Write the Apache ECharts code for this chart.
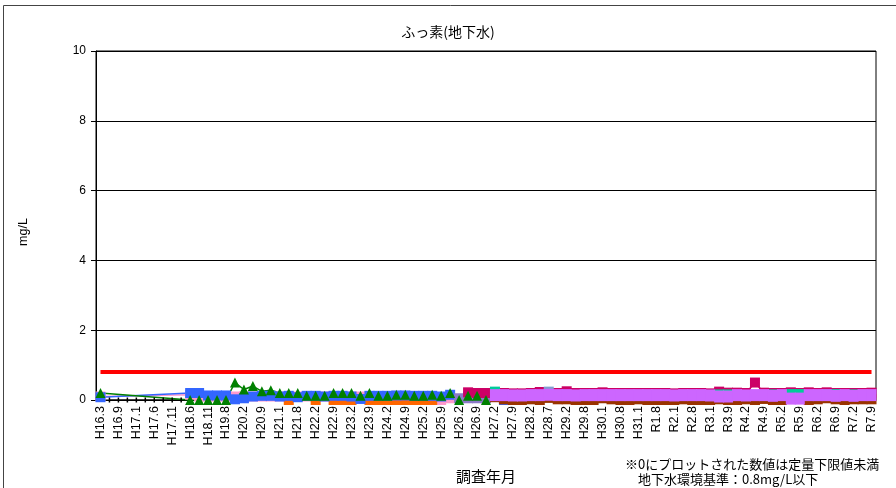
<!DOCTYPE html>
<html><head><meta charset="utf-8">
<script src="https://cdn.jsdelivr.net/npm/echarts@6/dist/echarts.min.js"></script>
<style>html,body{margin:0;padding:0;background:#fff}#c{width:896px;height:488px}</style>
</head><body><div id="c"></div>
<script>
const _ = null;
const title = 'ふっ素(地下水)';
const yName = 'mg/L';
const xName = '調査年月';
const note1 = '※0にプロットされた数値は定量下限値未満';
const note2 = '地下水環境基準：0.8mg/L以下';
const STANDARD = 0.8;
const yTicks = {min: 0, max: 10, interval: 2};

const categories = [
'H16.3','H16.6','H16.9','H16.11','H17.1','H17.3','H17.6','H17.8','H17.11','H18.2',
'H18.6','H18.8','H18.11','H19.2','H19.8','H19.11','H20.2','H20.6','H20.9','H20.11',
'H21.1','H21.5','H21.8','H21.11','H22.2','H22.5','H22.9','H22.11','H23.2','H23.5',
'H23.9','H23.11','H24.2','H24.5','H24.9','H24.11','H25.2','H25.5','H25.9','H25.11',
'H26.2','H26.5','H26.9','H26.11','H27.2','H27.5','H27.9','H27.11','H28.2','H28.5',
'H28.7','H28.11','H29.2','H29.5','H29.8','H29.11','H30.1','H30.5','H30.8','H30.11',
'H31.1','R1.5','R1.8','R1.11','R2.1','R2.5','R2.8','R2.11','R3.1','R3.5',
'R3.9','R3.11','R4.2','R4.5','R4.9','R4.11','R5.2','R5.5','R5.9','R5.11',
'R6.2','R6.5','R6.9','R6.11','R7.2','R7.5','R7.9'
];

const pinkVals = [
0.1,_,_,_,_,_,_,_,_,_,
0.15,0.1,0.1,0.1,0.1,0.1,0.1,0.1,0.1,0.1,
0.1,0.1,0.1,0.1,0.1,0.1,0.1,0.1,0.1,0.1,
0.1,0.1,0.1,0.1,0.1,0.1,0.1,0.1,0,0.05
];
const blackVals = [_,0,0,0,0,0,0,0,0,0];
const orangeVals = [
_,_,_,_,_,_,_,_,_,_,
_,_,_,_,_,_,_,_,_,_,
_,0,_,_,0,_,0,0,0,_,
0,0,0,0,0,0,0,0
];
const blueVals = [
0.08,_,_,_,_,_,_,_,_,_,
0.2,0.2,0.13,0.13,0.13,0.02,0.05,0.1,0.12,0.12,
0.1,0.12,0.08,0.12,0.12,0.1,0.12,0.12,0.1,0.03,
0.12,0.12,0.12,0.13,0.13,0.12,0.12,0.12,0.1,0.15,
_,0.1,0.1,0.08,_,0
];
const slateVals = [
_,_,_,_,_,_,_,_,_,_,
_,_,_,_,_,_,_,_,_,_,
_,_,_,_,_,_,_,_,_,_,
_,_,_,_,_,_,_,_,_,_,
0.05,0.05,0.05,0.05
];
const brownVals = [
_,_,_,_,_,_,_,_,_,_,
_,_,_,_,_,_,_,_,_,_,
_,_,_,_,_,_,_,_,_,_,
_,_,_,_,_,_,_,_,_,_,
_,_,_,_,0.08,0.02,0,0,0.02,0,
0.06,0.02,0.02,0,0,0,0.05,0.02,0,0,
0.02,0,0,0,0,0.02,0,0,0,0.02,
0,0,0.02,0,0.03,0,0,_,_,0,
0.02,0.05,0.02,0,0.02,0.02,0.02
];
const magentaVals = [
_,_,_,_,_,_,_,_,_,_,
_,_,_,_,_,_,_,_,_,_,
_,_,_,_,_,_,_,_,_,_,
_,_,_,_,_,_,_,_,_,_,
_,0.22,0.2,0.2,0.21,0.2,0.19,0.19,0.2,0.23,
0.2,0.2,0.25,0.2,0.2,0.2,0.22,0.2,0.2,0.2,
0.2,0.2,0.2,0.2,0.19,0.2,0.2,0.2,0.19,0.24,
0.21,0.21,0.2,0.5,0.21,0.2,0.2,0.22,0.2,0.22,
0.2,0.22,0.2,0.2,0.2,0.2,0.21
];
const tealVals = [
_,_,_,_,_,_,_,_,_,_,
_,_,_,_,_,_,_,_,_,_,
_,_,_,_,_,_,_,_,_,_,
_,_,_,_,_,_,_,_,_,_,
_,_,_,_,0.24,_,_,_,_,_,
_,_,_,_,_,_,_,_,_,_,
_,_,_,_,_,_,_,_,_,0.16,
0.16,_,_,_,_,0.16,_,0.17,0.17,_,
_,0.16,0.17,_,0.16
];
const bluegrayVals = [
_,_,_,_,_,_,_,_,_,_,
_,_,_,_,_,_,_,_,_,_,
_,_,_,_,_,_,_,_,_,_,
_,_,_,_,_,_,_,_,_,_,
_,_,_,_,_,_,_,_,_,_,
0.24
];
const purpleVals = [
_,_,_,_,_,_,_,_,_,_,
_,_,_,_,_,_,_,_,_,_,
_,_,_,_,_,_,_,_,_,_,
_,_,_,_,_,_,_,_,_,_,
_,_,_,_,0.14,0.14,0.13,0.13,0.14,0.14,
0.15,0.14,0.14,0.13,0.14,0.14,0.14,0.14,0.14,0.14,
0.14,0.14,0.14,0.14,0.13,0.14,0.14,0.14,0.13,0.1,
0.1,0.14,0.13,0.14,0.14,0.12,0.14,0.04,0.04,0.14,
0.14,0.14,0.12,0.14,0.12,0.14,0.14
];
const greenVals = [
0.2,_,_,_,_,_,_,_,_,_,
0,0,0,0,0,0.5,0.3,0.4,0.25,0.28,
0.2,0.2,0.2,0.12,0.12,0.12,0.2,0.2,0.2,0.12,
0.2,0.12,0.12,0.15,0.15,0.12,0.12,0.15,0.12,0.2,
0,0.12,0.12,0
];

function ser(name, data, color, opts) {
  return Object.assign({
    name: name, type: 'line', data: data,
    symbol: 'rect', symbolSize: 10, showSymbol: true, showAllSymbol: true,
    connectNulls: true,
    itemStyle: {color: color},
    lineStyle: {color: color, width: 1.5},
    emphasis: {disabled: true},
    animation: false
  }, opts || {});
}

const chart = echarts.init(document.getElementById('c'));
const FONT = '"Liberation Sans", "Noto Sans CJK JP", sans-serif';
chart.setOption({
  backgroundColor: '#fff',
  animation: false,
  title: {text: title, left: 'center', top: 20,
    textStyle: {fontSize: 14, fontWeight: 'normal', color: '#000', fontFamily: '"Noto Sans CJK JP", sans-serif'}},
  grid: {left: 96, right: 20, top: 51, bottom: 88, show: true, borderColor: '#000', borderWidth: 1},
  xAxis: {
    type: 'category', data: categories, boundaryGap: true,
    axisLine: {lineStyle: {color: '#000'}},
    axisTick: {show: false},
    axisLabel: {interval: 1, rotate: 90, fontSize: 12.5, color: '#000', fontFamily: FONT, margin: 6}
  },
  yAxis: {
    type: 'value', min: yTicks.min, max: yTicks.max, interval: yTicks.interval,
    axisLine: {show: true, lineStyle: {color: '#000'}},
    axisTick: {show: true, length: 5, lineStyle: {color: '#000'}},
    axisLabel: {fontSize: 12, color: '#000', fontFamily: FONT, margin: 10},
    splitLine: {lineStyle: {color: '#000', width: 1}}
  },
  graphic: [
    {type: 'rect', shape: {x: 3.5, y: 5.5, width: 1000, height: 1000}, style: {fill: 'none', stroke: '#444', lineWidth: 1}, silent: true, z: -10},
    {type: 'text', x: 24, y: 232, rotation: Math.PI / 2,
      style: {text: yName, fontSize: 12.5, fill: '#000', fontFamily: FONT, align: 'center', verticalAlign: 'middle'}},
    {type: 'text', x: 486, y: 476,
      style: {text: xName, fontSize: 15, fill: '#000', fontFamily: '"Noto Sans CJK JP", sans-serif', align: 'center', verticalAlign: 'middle'}},
    {type: 'text', x: 625, y: 464,
      style: {text: note1, fontSize: 13, fill: '#000', fontFamily: '"Noto Sans CJK JP", sans-serif', align: 'left', verticalAlign: 'middle'}},
    {type: 'text', x: 638, y: 479,
      style: {text: note2, fontSize: 13, fill: '#000', fontFamily: '"Noto Sans CJK JP", sans-serif', align: 'left', verticalAlign: 'middle'}}
  ],
  series: [
    ser('pink', pinkVals, '#ff99cc', {
      markLine: {
        symbol: ['none', 'none'], silent: true, animation: false,
        label: {show: false},
        lineStyle: {color: '#ff0000', width: 4, type: 'solid'},
        data: [[{coord: [categories[0], STANDARD]}, {coord: [categories[categories.length - 1], STANDARD]}]]
      }
    }),
    ser('black', blackVals, '#000000', {symbolSize: [1.5, 5], lineStyle: {color: '#000', width: 1.2}}),
    ser('orange', orangeVals, '#ff6600', {connectNulls: false}),
    ser('blue', blueVals, '#3366ff'),
    ser('slate', slateVals, '#8c7ac8'),
    ser('brown', brownVals, '#993300', {connectNulls: false}),
    ser('magenta', magentaVals, '#cc0066'),
    ser('teal', tealVals, '#00cc99', {connectNulls: false}),
    ser('bluegray', bluegrayVals, '#7f9fcf', {connectNulls: false}),
    ser('purple', purpleVals, '#cc66ff', {symbolSize: [10, 12]}),
    ser('green', greenVals, '#008000', {symbol: 'triangle', symbolSize: 10})
  ]
});
</script></body></html>
